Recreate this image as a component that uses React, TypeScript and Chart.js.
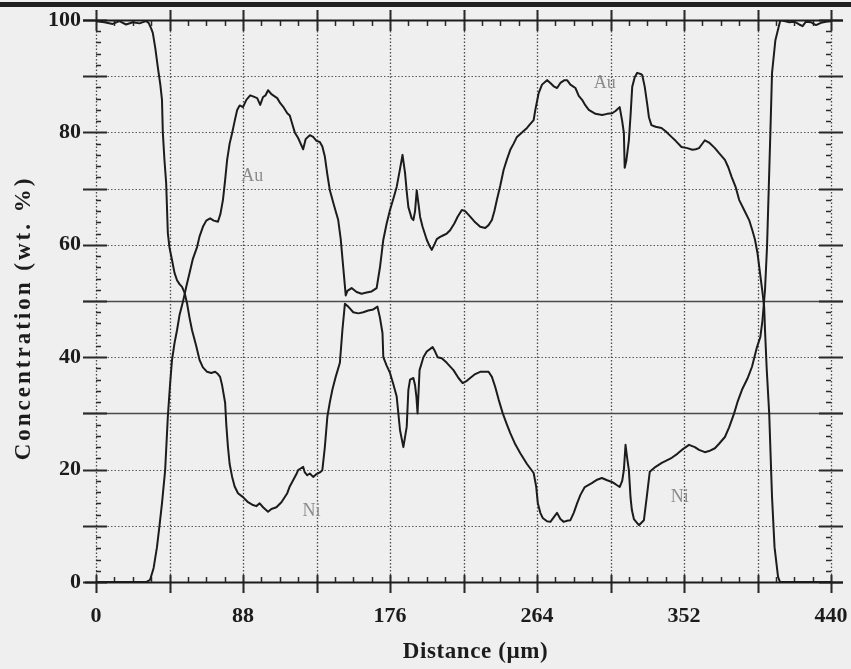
import React, { useEffect, useRef } from 'react';
import { Chart, registerables } from 'chart.js';

Chart.register(...registerables);

// ---- data (distance in µm, concentration in wt. %) ----
const auDistance = [
  0, 30, 32.4, 34.5, 36.5, 38, 39.5, 41.4, 43, 44.3, 45.5, 47, 48.5, 50, 52, 54, 56, 58, 60.5, 62, 64, 66, 68.3, 70.5, 73,
  74.5, 76, 77.3, 78.5, 80, 81.5, 83, 84.5, 86, 88, 90, 92.3, 94, 96.5, 98.3, 100, 101.5, 103, 105, 106.5, 108.5, 110.3,
  112, 114.5, 116, 117.5, 119, 121, 122.5, 124, 125.5, 128, 130, 132, 134, 135.5, 137, 138.5, 140, 142.5, 145, 146.5, 148,
  149.5, 150.5, 153, 156, 159, 162, 165, 168, 170, 172, 174, 176, 178, 180, 182, 183.5, 185, 186, 187, 189, 190, 191, 192,
  193, 194, 195.5, 198, 200, 201, 202.5, 204, 206, 208, 210, 212, 214.5, 216.5, 219, 221, 224, 227, 230, 233, 235, 237,
  238.5, 240, 242, 244, 246, 248, 250, 252, 255, 258, 260, 262, 263, 265, 267, 270, 272, 274, 276, 278, 280.5, 282, 284,
  286, 287, 289, 291, 293, 295, 299, 303, 306, 309, 311, 313.5, 315, 316, 316.5, 317.5, 319, 320, 321, 322.5, 324, 326,
  327, 328.5, 330, 331, 332.5, 335, 338.5, 341, 344.5, 347, 350.5, 354, 357, 359, 361, 362.5, 364.5, 367, 370.5, 373,
  376.5, 378.5, 380.5, 383, 385, 388, 391, 393, 394.5, 396, 397.5, 399, 400, 400.5, 401.5, 403, 404.7, 406.2, 408.3,
  409.5, 440,
];
const auValues = [
  0, 0, 0.4, 2.5, 6.2, 10, 14, 19.9, 29.4, 35, 39.5, 42.5, 44.8, 47.5, 49.8, 52.5, 55, 57.5, 59.6, 61.5, 63.2, 64.3, 64.7,
  64.3, 64.1, 65.5, 68, 71.5, 75.1, 78, 79.9, 82, 84, 84.8, 84.5, 85.8, 86.6, 86.4, 86.1, 84.9, 86.3, 86.6, 87.5, 86.8,
  86.5, 86.1, 85.2, 84.6, 83.4, 83, 81.5, 80, 79, 78, 77, 78.8, 79.5, 79.2, 78.5, 78.3, 77.5, 75.7, 72.5, 69.7, 67, 64.4,
  61, 56, 51, 51.8, 52.3, 51.6, 51.3, 51.5, 51.7, 52.3, 56, 60.9, 63.8, 66.2, 68.2, 70.3, 73.5, 76, 72.8, 69.5, 66.7, 64.7,
  64.4, 66, 69.7, 67.4, 65, 63.2, 60.9, 59.6, 59.1, 60, 61, 61.4, 61.7, 62, 62.6, 63.8, 65, 66.2, 66, 65, 64, 63.2, 63,
  63.5, 64.4, 66, 68, 70.5, 73.3, 75.2, 76.9, 78, 79.2, 80, 80.8, 81.5, 82.2, 84, 87, 88.5, 89.3, 88.8, 88.2, 87.9, 88.8,
  89.3, 89.3, 88.5, 88.1, 87.9, 86.5, 85.8, 84.8, 84, 83.3, 83.1, 83.3, 83.4, 83.8, 84.5, 82, 79.9, 73.7, 75, 78.6, 83,
  88.1, 89.8, 90.6, 90.4, 90.2, 88.1, 85, 82.7, 81.3, 81, 80.8, 80.2, 79.2, 78.5, 77.4, 77.2, 76.9, 77, 77.2, 77.8, 78.6,
  78.2, 77.2, 76.3, 75.1, 73.8, 72.1, 70.2, 68, 66.2, 64.4, 62.5, 60.9, 58.5, 55, 51.5, 48.9, 44.8, 38, 30, 15.1, 6.2,
  0.9, 0, 0,
];

const niDistance = [
  0, 5, 10, 14, 18, 22, 26, 30, 31.5, 33, 34, 35.5, 37, 38.5, 39.5, 40, 41, 42, 43, 44, 45.5, 47, 48.5, 50, 51.5, 53, 54.5,
  56, 57.5, 60, 62, 64, 66.5, 69, 71.3, 73, 74.3, 75.5, 77.3, 78, 79, 80, 81.5, 83, 85, 88, 91, 94, 96, 98, 100, 103, 105,
  108, 111, 114.5, 116, 118, 120, 121, 122.5, 124, 125, 126.5, 128, 130, 132, 134, 135.5, 137, 138.5, 140, 141.5, 143.5,
  146, 147.5, 149, 151, 154, 157, 160, 163, 166, 168.5, 170, 171.5, 172, 174, 176, 178, 180, 182, 184, 186, 187, 188, 190,
  191, 191.8, 192.5, 193.7, 196, 198, 201.5, 203, 204.5, 207, 210, 214, 217, 219.5, 222, 224, 227, 230, 235, 237, 239,
  241, 243.5, 246, 248, 251, 254, 258, 262, 263.5, 264.5, 266, 267.4, 270, 272, 274, 276, 278, 280, 282, 284, 286, 288,
  290, 292.6, 296.8, 300, 302.8, 306, 308.8, 311, 313.5, 315, 316, 317, 318, 319, 320, 320.8, 322, 325, 328, 329.7, 331.5,
  335, 338.7, 342, 344.7, 348, 350.7, 355, 358.5, 361, 364.5, 367, 370.5, 373, 376.5, 379, 382, 384, 386.7, 390, 392.7,
  395.7, 397.7, 399, 400.5, 401.7, 402.7, 403.7, 404.7, 406.7, 409.7, 412, 415, 418, 421, 423, 425, 428, 431, 434, 437,
  440,
];
const niValues = [
  99.8, 99.6, 99.3, 99.8, 99.2, 99.6, 99.4, 99.8, 99.5, 98.5, 97.7, 95, 91.6, 88.5, 85.8, 80, 75, 71, 62.1, 59.5, 57.3, 55,
  53.7, 53, 52.5, 51.5, 49.6, 47, 44.8, 42, 39.5, 38.2, 37.4, 37.2, 37.4, 37, 36.5, 35, 31.9, 28, 24, 21, 18.7, 17, 15.8,
  15.1, 14.2, 13.7, 13.5, 14, 13.3, 12.5, 13, 13.3, 14.2, 15.8, 17, 18.1, 19.2, 19.9, 20.2, 20.5, 19.5, 19, 19.3, 18.7,
  19.2, 19.5, 19.9, 24, 29.4, 32, 34.2, 36.5, 39, 44.8, 49.5, 49, 48, 47.8, 48, 48.3, 48.5, 49, 47, 44.3, 40, 38.5, 37.2,
  35.2, 33, 27, 24, 27.6, 34.2, 36, 36.3, 35, 33, 30, 37.7, 40, 41, 41.8, 41, 40, 39.8, 39, 37.7, 36.3, 35.4, 35.8, 36.3,
  37, 37.4, 37.4, 36.5, 34.7, 32.5, 30, 28, 26.5, 24.5, 22.9, 21, 19.4, 17, 14, 12.3, 11.4, 10.8, 10.7, 11.5, 12.3, 11.2,
  10.7, 10.9, 11, 12.3, 14, 15.5, 16.9, 17.6, 18.2, 18.5, 18.1, 17.8, 17.4, 16.9, 18, 19.9, 24.4, 22, 19.9, 15, 12.8, 11.2,
  10.1, 11, 15.1, 19.6, 20.5, 21.2, 21.7, 22.1, 22.8, 23.5, 24.4, 24, 23.5, 23.1, 23.3, 23.8, 24.6, 25.8, 27.5, 30, 32,
  34.2, 36.2, 38.3, 41.8, 43.6, 46.6, 52, 59.6, 69.7, 79.9, 90.6, 96.4, 100, 99.8, 99.6, 99.7, 99.2, 98.9, 99.7, 99.6,
  99.1, 99.5, 99.7, 99.8,
];

const xMin = 0;
const xMax = 440;
const yMin = 0;
const yMax = 100;
const xTickStep = 88;
const yTickStep = 20;
const xGridStep = 44;
const xMinorStep = 11;
const yGridStep = 10;
const yMinorStep = 2;
const ySolidGrid = [30, 50];

const xTitle = 'Distance (µm)';
const yTitle = 'Concentration (wt. %)';

const curveLabels = [
  { text: 'Au', x: 93.5, y: 72.2 },
  { text: 'Ni', x: 129, y: 12.6 },
  { text: 'Au', x: 304.6, y: 88.8 },
  { text: 'Ni', x: 349.5, y: 15 },
];

const SERIF = '"Liberation Serif", "Times New Roman", serif';
const INK = '#1c1c1c';

const paperPlugin = {
  id: 'paperPlugin',
  beforeDraw(chart: any) {
    const { ctx, width } = chart;
    ctx.save();
    ctx.fillStyle = '#efefef';
    ctx.fillRect(0, 0, chart.width, chart.height);
    ctx.fillStyle = '#202020';
    ctx.fillRect(0, 2, width, 5);
    ctx.restore();
  },
  beforeDatasetsDraw(chart: any) {
    const { ctx } = chart;
    const xs = chart.scales.x;
    const ys = chart.scales.y;
    const L = xs.getPixelForValue(xMin);
    const R = xs.getPixelForValue(xMax);
    const T = ys.getPixelForValue(yMax);
    const B = ys.getPixelForValue(yMin);
    ctx.save();

    // horizontal grid lines
    for (let v = yMin + yGridStep; v < yMax; v += yGridStep) {
      const py = Math.round(ys.getPixelForValue(v)) + 0.5;
      ctx.beginPath();
      if (ySolidGrid.includes(v)) {
        ctx.setLineDash([]);
        ctx.strokeStyle = '#4a4a4a';
        ctx.lineWidth = 1.5;
      } else {
        ctx.setLineDash([1.5, 2]);
        ctx.strokeStyle = '#5a5a5a';
        ctx.lineWidth = 1.2;
      }
      ctx.moveTo(L - 13, py);
      ctx.lineTo(R + 12, py);
      ctx.stroke();
    }

    // vertical grid lines (incl. both side axes)
    ctx.setLineDash([1.5, 2]);
    ctx.strokeStyle = '#4a4a4a';
    ctx.lineWidth = 1.3;
    for (let v = xMin; v <= xMax; v += xGridStep) {
      const px = Math.round(xs.getPixelForValue(v)) + 0.5;
      ctx.beginPath();
      ctx.moveTo(px, T - 10);
      ctx.lineTo(px, B + 11);
      ctx.stroke();
    }
    ctx.setLineDash([]);

    // y ticks, left and right axes
    ctx.strokeStyle = '#2a2a2a';
    for (let v = yMin; v <= yMax; v += yMinorStep) {
      const py = Math.round(ys.getPixelForValue(v)) + 0.5;
      ctx.beginPath();
      if (v % yGridStep === 0) {
        ctx.lineWidth = 2;
        ctx.moveTo(L - 13, py);
        ctx.lineTo(L + 11, py);
        ctx.moveTo(R - 12, py);
        ctx.lineTo(R + 12, py);
      } else {
        ctx.lineWidth = 1.5;
        ctx.moveTo(L, py);
        ctx.lineTo(L + 5, py);
        ctx.moveTo(R - 5, py);
        ctx.lineTo(R, py);
      }
      ctx.stroke();
    }

    // x ticks, bottom and top axes
    for (let v = xMin; v <= xMax; v += xMinorStep) {
      const px = Math.round(xs.getPixelForValue(v)) + 0.5;
      ctx.beginPath();
      if (v % xGridStep === 0) {
        ctx.lineWidth = 2;
        ctx.moveTo(px, B - 7);
        ctx.lineTo(px, B + 11);
        ctx.moveTo(px, T - 10);
        ctx.lineTo(px, T + 11);
      } else {
        ctx.lineWidth = 1.5;
        ctx.moveTo(px, B);
        ctx.lineTo(px, B - 5);
        ctx.moveTo(px, T);
        ctx.lineTo(px, T + 6);
      }
      ctx.stroke();
    }

    // solid top and bottom frame lines
    ctx.strokeStyle = INK;
    ctx.lineWidth = 2.2;
    ctx.beginPath();
    ctx.moveTo(L - 13, Math.round(T) + 0.5);
    ctx.lineTo(R + 12, Math.round(T) + 0.5);
    ctx.moveTo(L - 11, Math.round(B) + 0.5);
    ctx.lineTo(R + 12, Math.round(B) + 0.5);
    ctx.stroke();
    ctx.restore();
  },
  afterDatasetsDraw(chart: any) {
    const { ctx } = chart;
    const xs = chart.scales.x;
    const ys = chart.scales.y;
    ctx.save();
    // curve labels
    ctx.fillStyle = '#8c8c8c';
    ctx.font = `18px ${SERIF}`;
    ctx.textAlign = 'center';
    ctx.textBaseline = 'middle';
    for (const lab of curveLabels) {
      ctx.fillText(lab.text, xs.getPixelForValue(lab.x), ys.getPixelForValue(lab.y));
    }
    // axis titles
    ctx.fillStyle = INK;
    ctx.font = `bold 23px ${SERIF}`;
    (ctx as any).letterSpacing = '0.6px';
    ctx.fillText(xTitle, (xs.getPixelForValue(xMin) + xs.getPixelForValue(xMax)) / 2 + 12, 652);
    ctx.translate(24, (ys.getPixelForValue(yMin) + ys.getPixelForValue(yMax)) / 2 + 17);
    ctx.rotate(-Math.PI / 2);
    (ctx as any).letterSpacing = '3px';
    ctx.fillText(yTitle, 0, 0);
    ctx.restore();
  },
};

export default function App() {
  const canvasRef = useRef<HTMLCanvasElement | null>(null);

  useEffect(() => {
    const canvas = canvasRef.current;
    if (!canvas) return;
    const au = auDistance.map((x, i) => ({ x, y: auValues[i] }));
    const ni = niDistance.map((x, i) => ({ x, y: niValues[i] }));
    const chart = new Chart(canvas, {
      type: 'line',
      data: {
        datasets: [
          { label: 'Au', data: au, borderColor: INK, borderWidth: 2, pointRadius: 0, tension: 0, fill: false },
          { label: 'Ni', data: ni, borderColor: INK, borderWidth: 2, pointRadius: 0, tension: 0, fill: false },
        ],
      },
      options: {
        animation: false,
        responsive: false,
        devicePixelRatio: 1,
        layout: { padding: { top: 20, right: 20, left: 0, bottom: 0 } },
        plugins: { legend: { display: false }, tooltip: { enabled: false } },
        elements: { line: { borderJoinStyle: 'round', borderCapStyle: 'round' } },
        scales: {
          x: {
            type: 'linear',
            min: xMin,
            max: xMax,
            grid: { display: false, drawTicks: false },
            border: { display: false },
            ticks: {
              stepSize: xTickStep,
              autoSkip: false,
              maxRotation: 0,
              padding: 21,
              color: INK,
              font: { family: SERIF, size: 22, weight: 'bold' },
            },
            afterFit: (scale: any) => {
              scale.height = 87;
              scale.paddingLeft = 0;
              scale.paddingRight = 0;
            },
          },
          y: {
            type: 'linear',
            min: yMin,
            max: yMax,
            grid: { display: false, drawTicks: false },
            border: { display: false },
            ticks: {
              stepSize: yTickStep,
              padding: 15,
              color: INK,
              font: { family: SERIF, size: 22, weight: 'bold' },
            },
            afterFit: (scale: any) => {
              scale.width = 96;
              scale.paddingTop = 0;
              scale.paddingBottom = 0;
            },
          },
        },
      },
      plugins: [paperPlugin],
    } as any);
    return () => chart.destroy();
  }, []);

  return (
    <div style={{ position: 'fixed', left: 0, top: 0, width: 851, height: 669, background: '#efefef' }}>
      <canvas ref={canvasRef} width={851} height={669} style={{ display: 'block', width: 851, height: 669 }} />
    </div>
  );
}
